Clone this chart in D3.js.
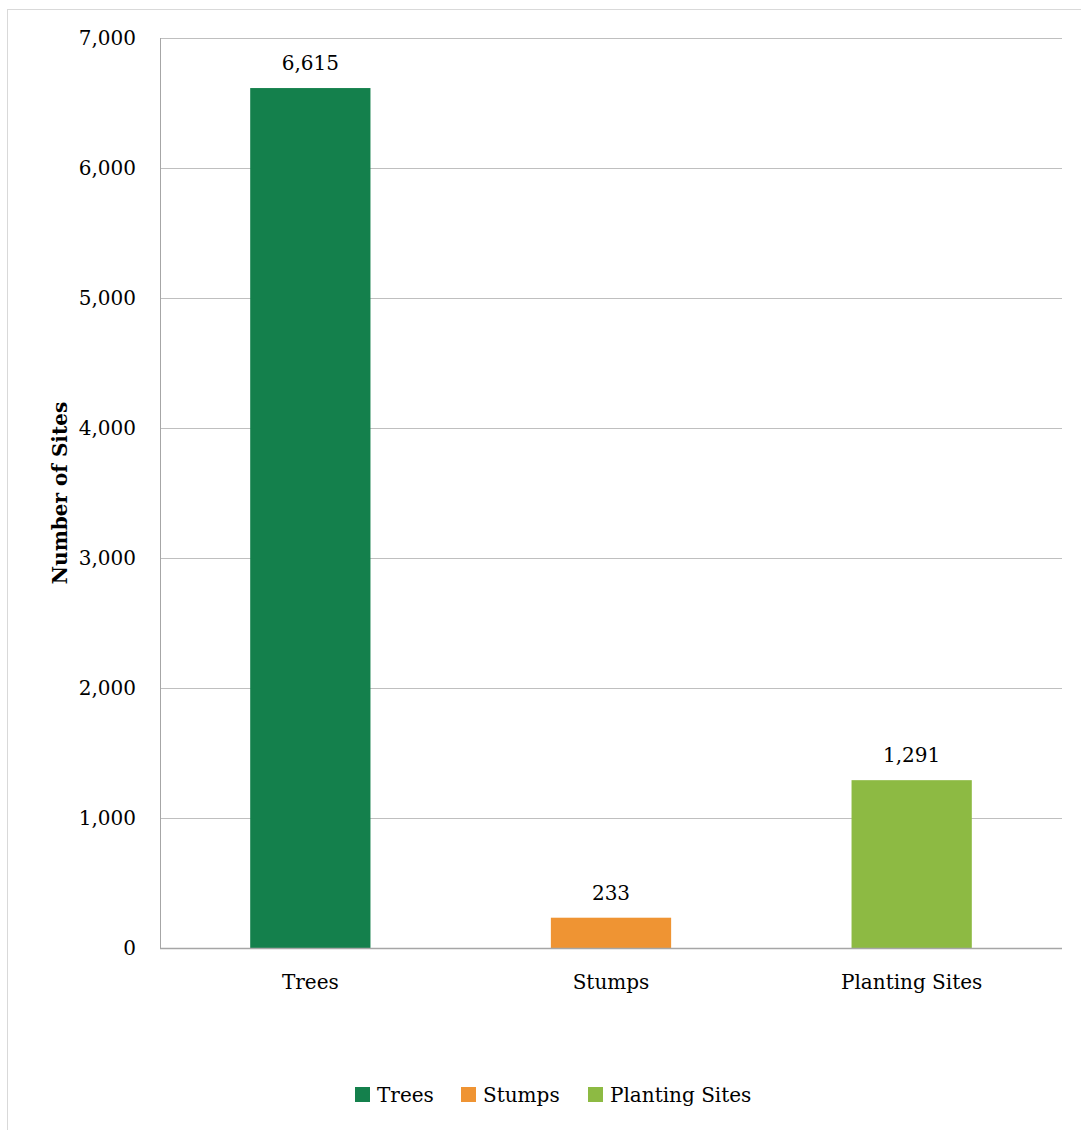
<!DOCTYPE html>
<html><head><meta charset="utf-8">
<script src="https://cdn.jsdelivr.net/npm/d3@7"></script>
<style>
html,body{margin:0;padding:0;background:#fff;}
text{font-family:"Palatino Linotype","Book Antiqua",Palatino,"DejaVu Serif",serif;fill:#000;}
</style></head>
<body>
<script>
const categories = ["Trees", "Stumps", "Planting Sites"];
const values = [6615, 233, 1291];
const colors = ["#14804c", "#ef9433", "#8dba43"];
const yTicks = [0, 1000, 2000, 3000, 4000, 5000, 6000, 7000];
const yTitle = "Number of Sites";

const W = 1081, H = 1130;
const FS = 20;
const svg = d3.select("body").append("svg").attr("width", W).attr("height", H);

// outer chart border (light gray)
svg.append("rect").attr("x", 7.5).attr("y", 9.5).attr("width", W + 10).attr("height", H + 10)
  .attr("fill", "none").attr("stroke", "#d9d9d9").attr("stroke-width", 1);

const L = 160, R = 1062, T = 38, B = 948;
const x = d3.scaleBand().domain(categories).range([L, R]).paddingInner(0.6).paddingOuter(0.3);
const y = d3.scaleLinear().domain([0, 7000]).range([B, T]);
const fmt = d3.format(",");

// gridlines
svg.append("g").selectAll("line").data(yTicks.filter(d => d > 0)).join("line")
  .attr("x1", L).attr("x2", R)
  .attr("y1", d => Math.round(y(d)) + 0.5).attr("y2", d => Math.round(y(d)) + 0.5)
  .attr("stroke", "#bfbfbf").attr("stroke-width", 1);

// y axis labels
const yAxis = d3.axisLeft(y).tickValues(yTicks).tickFormat(fmt).tickSize(0).tickPadding(24);
const ga = svg.append("g").attr("transform", `translate(${L},0)`).call(yAxis);
ga.select(".domain").remove();
ga.selectAll("text").attr("font-size", FS).attr("font-family", null).attr("fill", "#000");

// bars
svg.append("g").selectAll("rect").data(values).join("rect")
  .attr("x", (d, i) => x(categories[i]))
  .attr("width", x.bandwidth())
  .attr("y", d => y(d))
  .attr("height", d => B - y(d))
  .attr("fill", (d, i) => colors[i]);

// value labels
svg.append("g").selectAll("text").data(values).join("text")
  .attr("x", (d, i) => x(categories[i]) + x.bandwidth() / 2)
  .attr("y", d => y(d) - 18)
  .attr("text-anchor", "middle").attr("font-size", FS)
  .text(d => fmt(d));

// axis lines
svg.append("line").attr("x1", L + 0.5).attr("x2", L + 0.5).attr("y1", T).attr("y2", B + 1)
  .attr("stroke", "#a6a6a6").attr("stroke-width", 1);
svg.append("line").attr("x1", L).attr("x2", R).attr("y1", B + 0.5).attr("y2", B + 0.5)
  .attr("stroke", "#a6a6a6").attr("stroke-width", 1.5);

// x labels
const xAxis = d3.axisBottom(x).tickSize(0).tickPadding(27);
const gx = svg.append("g").attr("transform", `translate(0,${B})`).call(xAxis);
gx.select(".domain").remove();
gx.selectAll("text").attr("font-size", FS).attr("font-family", null).attr("fill", "#000");

// y title
svg.append("text").attr("transform", `translate(60,${(T + B) / 2}) rotate(-90)`)
  .attr("text-anchor", "middle").attr("dy", "0.35em").attr("font-size", FS).attr("font-weight", "bold")
  .text(yTitle);

// legend
const legendX = [355, 461, 588];
const lg = svg.append("g").selectAll("g").data(categories).join("g")
  .attr("transform", (d, i) => `translate(${legendX[i]},1087)`);
lg.append("rect").attr("width", 15).attr("height", 15).attr("fill", (d, i) => colors[i]);
lg.append("text").attr("x", 22).attr("y", 15).attr("font-size", FS).text(d => d);
</script>
</body></html>
